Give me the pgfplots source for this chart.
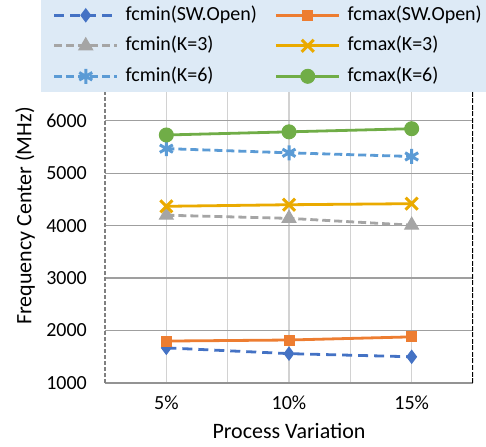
\documentclass[border=0pt]{standalone}
\usepackage{fontspec}
\setmainfont{Carlito}
\usepackage{pgfplots}
\pgfplotsset{compat=1.18}
\definecolor{cA}{HTML}{4472C4}
\definecolor{cB}{HTML}{ED7D31}
\definecolor{cC}{HTML}{A5A5A5}
\definecolor{cD}{HTML}{EAAA00}
\definecolor{cE}{HTML}{5B9BD5}
\definecolor{cF}{HTML}{70AD47}
\definecolor{legfill}{HTML}{DDEAF6}
\begin{document}
\begin{tikzpicture}
\useasboundingbox (-105pt,-63pt) rectangle (381pt,383pt);
\begin{axis}[
  at={(0,0)}, anchor=south west,
  scale only axis, width=368pt, height=291pt,
  xmin=-0.5, xmax=2.5, ymin=1000, ymax=6550,
  axis x line*=bottom, axis y line*=left,
  x axis line style={-, draw=gray!85, line width=2.2pt},
  y axis line style={-, draw=gray, line width=1.5pt, dash pattern=on 4pt off 2pt},
  xtick={0,1,2}, xticklabels={5\%,10\%,15\%},
  minor xtick={0.5,1.5},
  ytick={1000,2000,3000,4000,5000,6000},
  /pgf/number format/1000 sep={},
  /pgf/number format/assume math mode=true,
  major tick length=0pt, minor tick length=0pt,
  xmajorgrids, xminorgrids, ymajorgrids,
  major x grid style={draw=gray!35, line width=1.3pt},
  minor x grid style={draw=gray!35, line width=1.3pt},
  major y grid style={draw=gray!75, line width=1.3pt},
  tick label style={font=\fontsize{20}{24}\selectfont},
  yticklabel style={inner sep=0pt, anchor=east, xshift=-18pt},
  xticklabel style={inner sep=0pt, anchor=north, yshift=-13pt},
  xlabel={Process Variation},
  ylabel={Frequency Center (MHz)},
  label style={font=\fontsize{22}{26}\selectfont},
  xlabel style={at={([yshift=-40pt]rel axis cs:0.5,0)}, anchor=north, inner sep=0pt},
  ylabel style={at={([xshift=-80pt]rel axis cs:0,0.574)}, anchor=center, inner sep=0pt},
  legend columns=2,
  legend cell align=left,
  legend image code/.code={\path (-8pt,0pt); \draw[mark repeat=2,mark phase=2,#1] plot coordinates {(0pt,0pt)(31.5pt,0pt)(63pt,0pt)};},
  legend style={
    fill=legfill, draw=none,
    at={(rel axis cs:1,1)}, anchor=south east, xshift=13pt,
    inner xsep=4pt, inner ysep=5.5pt,
    row sep=10.5pt,
    font=\fontsize{20}{24}\selectfont,
    nodes={inner sep=0pt, text height=15pt, text depth=5pt},
    /tikz/every odd column/.append style={column sep=7pt},
    /tikz/every even column/.append style={column sep=10pt},
  },
]
\addplot[color=cA, line width=2.8pt, dash pattern=on 10pt off 6pt, mark=diamond*, mark size=6.5pt, mark options={solid, line width=1pt}] coordinates {(0,1670)(1,1560)(2,1500)};
\addlegendentry{fcmin(SW.Open)}
\addplot[color=cB, line width=2.8pt, mark=square*, mark size=5pt, mark options={solid, line width=1pt}] coordinates {(0,1800)(1,1820)(2,1880)};
\addlegendentry{fcmax(SW.Open)}
\addplot[color=cC, line width=2.8pt, dash pattern=on 8pt off 4pt, mark=triangle*, mark size=8pt, mark options={solid, line width=1pt}] coordinates {(0,4200)(1,4140)(2,4010)};
\addlegendentry{fcmin(K=3)}
\addplot[color=cD, line width=2.8pt, mark=x, mark size=8.5pt, mark options={solid, line width=3pt}] coordinates {(0,4370)(1,4400)(2,4420)};
\addlegendentry{fcmax(K=3)}
\addplot[color=cE, line width=2.8pt, dash pattern=on 8pt off 4pt, mark=asterisk, mark size=7.5pt, mark options={solid, line width=3pt}] coordinates {(0,5470)(1,5390)(2,5320)};
\addlegendentry{fcmin(K=6)}
\addplot[color=cF, line width=2.8pt, mark=*, mark size=7pt, mark options={solid, line width=1pt}] coordinates {(0,5730)(1,5790)(2,5850)};
\addlegendentry{fcmax(K=6)}
\draw[black, line width=2.6pt, dash pattern=on 5pt off 1.5pt] (rel axis cs:1,0) -- (rel axis cs:1,1);
\end{axis}
\end{tikzpicture}
\end{document}
